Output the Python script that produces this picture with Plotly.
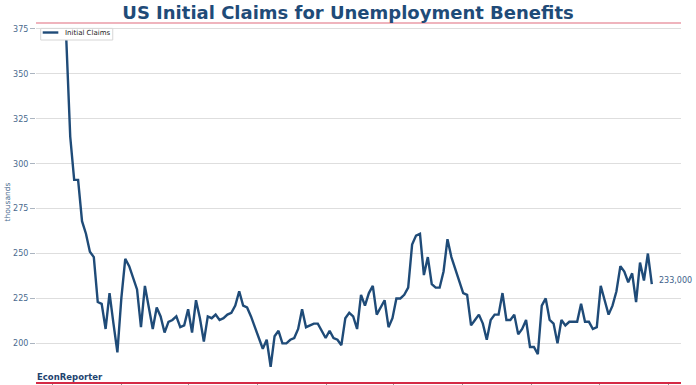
import pandas as pd
import plotly.graph_objects as go

# ---- data (weekly initial claims, thousands) ----
start_week = "2021-09-25"
claims = [
    369, 315, 291, 291, 268, 261, 251, 248, 223, 222,
    208, 228, 211, 195, 225, 247, 243, 237, 230, 209,
    232, 220, 208, 220, 215, 206, 212, 213, 215, 209,
    210, 219, 206, 224, 214, 201, 215, 214, 216, 213,
    214, 216, 217, 221, 229, 221, 220, 215, 209, 204,
    197, 202, 187, 204, 207, 200, 200, 202, 203, 208,
    219, 209, 210, 211, 211, 207, 203, 207, 203, 202,
    199, 214, 217, 215, 208, 227, 221, 228, 232, 216,
    220, 224, 209, 214, 225, 225, 227, 231, 255, 260,
    261, 238, 248, 233, 231, 231, 240, 258, 248, 241,
    234, 228, 227, 210, 213, 216, 211, 202, 213, 216,
    216, 228, 213, 213, 216, 205, 208, 213, 198, 198,
    194, 221, 225, 213, 211, 200, 213, 210, 212, 212,
    212, 222, 212, 212, 208, 209, 232, 224, 216, 221,
    229, 243, 240, 234, 239, 223, 245, 235, 250, 233,
]
dates = pd.date_range(start=start_week, periods=len(claims), freq="W-SAT")

x_tick_dates = ["2021-09-01", "2022-01-01", "2022-05-01", "2022-09-01", "2023-01-01",
                "2023-05-01", "2023-09-01", "2024-01-01", "2024-05-01", "2024-09-01"]
y_ticks = [200, 225, 250, 275, 300, 325, 350, 375]
x_range = ["2021-08-02", "2024-09-24"]
y_range = [178.5, 378.3]

series_name = "Initial Claims"
title_text = "US Initial Claims for Unemployment Benefits"
last_label = f"{claims[-1] * 1000:,}"

NAVY = "#1f4b78"
TICKTXT = "#4a6a8e"
FONT = "DejaVu Sans"

fig = go.Figure()
fig.add_trace(go.Scatter(
    x=dates, y=claims, mode="lines", name=series_name,
    line=dict(color=NAVY, width=2.4), showlegend=False,
))

fig.update_layout(
    width=696, height=385,
    margin=dict(l=36, r=15, t=23, b=3),
    paper_bgcolor="white", plot_bgcolor="white",
    font=dict(family=FONT, color=TICKTXT),
    title=dict(text=f"<b>{title_text}</b>", x=0.5, xanchor="center",
               y=0.966, yanchor="middle", yref="container",
               font=dict(family=FONT, size=18, color=NAVY)),
    showlegend=False,
    xaxis=dict(type="date", range=x_range, tickvals=x_tick_dates,
               showticklabels=False, showgrid=False, zeroline=False,
               showline=True, linecolor="#d42a45", linewidth=2.2,
               ticks="outside", ticklen=5, tickcolor="#999999", tickwidth=1,
               automargin=False),
    yaxis=dict(range=y_range, tickvals=y_ticks, showgrid=True,
               gridcolor="#dedede", gridwidth=1, zeroline=False,
               showline=False, ticks="outside", ticklen=5,
               tickcolor="#aab4c0", tickwidth=1,
               tickfont=dict(size=8, color=TICKTXT, family=FONT),
               automargin=False),
)

# pink rule under the title
fig.add_shape(type="line", xref="paper", yref="paper", x0=0, x1=1, y0=1, y1=1,
              line=dict(color="#e06b7c", width=1.2))

# compact legend box (matplotlib-style)
fig.add_shape(type="rect", xref="paper", yref="paper", x0=0.0073, x1=0.119,
              y0=0.9526, y1=0.985, fillcolor="white",
              line=dict(color="#d6d6d6", width=1), layer="above")
fig.add_shape(type="line", xref="paper", yref="paper", x0=0.0104, x1=0.0346,
              y0=0.9735, y1=0.9735, line=dict(color=NAVY, width=2.4), layer="above")
fig.add_annotation(text=series_name, xref="paper", yref="paper", x=0.0423, y=0.9735,
                   xanchor="left", yanchor="middle", showarrow=False,
                   font=dict(size=7, color="#222222", family=FONT))

# y axis label
fig.add_annotation(text="thousands", xref="paper", yref="paper", x=0, y=0.5,
                   xanchor="center", yanchor="middle",
                   xshift=-29, textangle=-90, showarrow=False,
                   font=dict(size=7.5, color=TICKTXT, family=FONT))

# last value label
fig.add_annotation(text=last_label, x=dates[-1], y=claims[-1], xref="x", yref="y",
                   xanchor="left", yanchor="middle", xshift=5, yshift=4,
                   showarrow=False, font=dict(size=8, color="#3d618a", family=FONT))

# brand
fig.add_annotation(text="<b>EconReporter</b>", xref="paper", yref="paper",
                   x=0, y=0, xanchor="left", yanchor="bottom", yshift=-2, xshift=-1,
                   showarrow=False, font=dict(size=8.5, color="#1f4470", family=FONT))

fig.write_html("out.html", config={"displayModeBar": False},
               post_script="document.body.style.margin='0';document.body.style.overflow='hidden';")
